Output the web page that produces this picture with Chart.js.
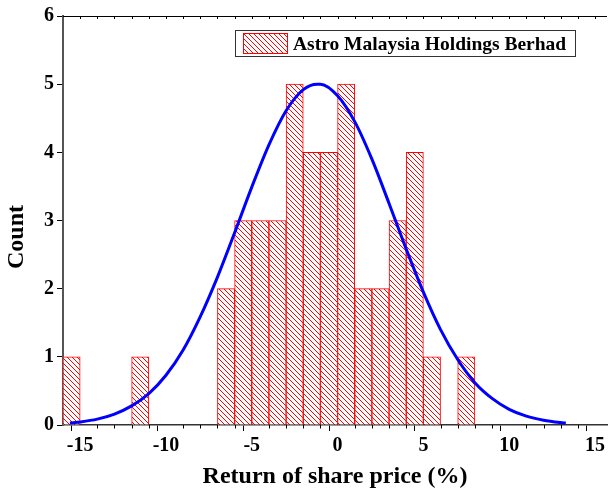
<!DOCTYPE html>
<html>
<head>
<meta charset="utf-8">
<script src="https://cdn.jsdelivr.net/npm/chart.js@4/dist/chart.umd.min.js"></script>
<style>
html,body{margin:0;padding:0;background:#fff;}
#wrap{width:608px;height:494px;}
</style>
</head>
<body>
<div id="wrap"><canvas id="c" width="608" height="494"></canvas></div>
<script>
// ---- data ----
const seriesLabel = "Astro Malaysia Holdings Berhad";
const binCenters = [-15.5, -11.5, -6.5, -5.5, -4.5, -3.5, -2.5, -1.5, -0.5, 0.5, 1.5, 2.5, 3.5, 4.5, 5.5, 7.5];
const binCounts  = [1, 1, 2, 3, 3, 3, 5, 4, 4, 5, 2, 2, 3, 4, 1, 1];
const curveX = [-15.6, -15, -14, -13, -12, -11, -10, -9, -8, -7, -6, -5, -4, -3, -2, -1.18, -1, 0, 1, 2, 3, 4, 5, 6, 7, 8, 9, 10, 11, 12, 13, 13.3];
const curveY = [0.03, 0.045, 0.086, 0.16, 0.28, 0.46, 0.73, 1.1, 1.59, 2.17, 2.82, 3.49, 4.11, 4.61, 4.92, 5.0, 5.0, 4.83, 4.45, 3.9, 3.25, 2.58, 1.95, 1.4, 0.96, 0.62, 0.39, 0.23, 0.13, 0.07, 0.035, 0.028];
const xTickLabels = [-15, -10, -5, 0, 5, 10, 15];
const yTickLabels = [0, 1, 2, 3, 4, 5, 6];
const xTitle = "Return of share price (%)";
const yTitle = "Count";

// ---- hatch pattern ----
function makeHatch() {
  const p = 5;
  const cv = document.createElement('canvas');
  cv.width = p; cv.height = p;
  const g = cv.getContext('2d');
  g.fillStyle = '#fff';
  g.fillRect(0, 0, p, p);
  g.strokeStyle = '#ff0000';
  g.lineWidth = 1;
  g.beginPath();
  for (let k = -1; k <= 1; k++) {
    g.moveTo(k * p, 0);
    g.lineTo(k * p + p, p);
  }
  g.stroke();
  return g.createPattern(cv, 'repeat');
}
const hatch = makeHatch();

const FONT = "'Liberation Serif','Times New Roman',serif";

const extras = {
  id: 'extras',
  afterDraw(chart) {
    const ctx = chart.ctx;
    const a = chart.chartArea;
    const xs = chart.scales.x;
    ctx.save();
    // top border with small ticks, and minor ticks on the bottom axis
    ctx.strokeStyle = '#000';
    ctx.lineWidth = 1;
    ctx.beginPath();
    ctx.moveTo(a.left, a.top + 0.5);
    ctx.lineTo(a.right, a.top + 0.5);
    for (let v = -15; v <= 15; v++) {
      const px = Math.round(xs.getPixelForValue(v)) + 0.5;
      ctx.moveTo(px, a.top);
      ctx.lineTo(px, a.top + 3);
      if (!xTickLabels.includes(v)) {
        ctx.moveTo(px, a.bottom);
        ctx.lineTo(px, a.bottom + 3.5);
      }
    }
    ctx.stroke();
    // y axis title (rotated)
    ctx.save();
    ctx.translate(17, 237);
    ctx.rotate(-Math.PI / 2);
    ctx.fillStyle = '#000';
    ctx.font = "bold 24px " + FONT;
    ctx.textAlign = 'center';
    ctx.textBaseline = 'middle';
    ctx.fillText(yTitle, 0, 0);
    ctx.restore();
    // legend
    const bx = 235.5, by = 30.5, bw = 340, bh = 26;
    ctx.fillStyle = '#fff';
    ctx.fillRect(bx, by, bw, bh);
    ctx.strokeStyle = '#333';
    ctx.lineWidth = 1;
    ctx.strokeRect(bx, by, bw, bh);
    ctx.fillStyle = hatch;
    ctx.fillRect(243, 33, 44, 21);
    ctx.strokeStyle = '#ff0000';
    ctx.strokeRect(243.5, 33.5, 44, 20);
    ctx.fillStyle = '#000';
    ctx.font = "bold 19.5px " + FONT;
    ctx.textBaseline = 'alphabetic';
    ctx.textAlign = 'left';
    ctx.fillText(seriesLabel, 293, 50);
    ctx.restore();
  }
};

new Chart(document.getElementById('c'), {
  type: 'bar',
  data: {
    datasets: [
      {
        type: 'line',
        label: 'Normal fit',
        data: curveX.map((x, i) => ({x: x, y: curveY[i]})),
        borderColor: '#0000ff',
        borderWidth: 3,
        pointRadius: 0,
        fill: false,
        cubicInterpolationMode: 'monotone',
        order: 0
      },
      {
        type: 'bar',
        label: seriesLabel,
        data: binCenters.map((x, i) => ({x: x, y: binCounts[i]})),
        backgroundColor: hatch,
        borderColor: '#ff0000',
        borderWidth: 1,
        barPercentage: 1,
        categoryPercentage: 1,
        order: 1
      }
    ]
  },
  options: {
    responsive: false,
    animation: false,
    devicePixelRatio: 1,
    layout: {padding: {top: 16, right: 0, left: 0, bottom: 0}},
    plugins: {legend: {display: false}, tooltip: {enabled: false}},
    scales: {
      x: {
        type: 'linear',
        min: -16,
        max: 15.7,
        offset: false,
        grid: {
          drawOnChartArea: false, drawTicks: true, tickLength: 6,
          tickColor: (c) => (c.tick && xTickLabels.includes(c.tick.value)) ? '#000' : 'rgba(0,0,0,0)'
        },
        border: {color: '#333', width: 1.5},
        ticks: {
          stepSize: 1,
          includeBounds: false,
          autoSkip: false,
          maxRotation: 0,
          padding: 3,
          color: '#000',
          font: {family: FONT, size: 20, weight: 'bold'},
          callback: (v) => xTickLabels.includes(v) ? String(v) : ''
        },
        title: {display: true, text: xTitle, color: '#000', padding: {top: 0, bottom: 3},
                font: {family: FONT, size: 24, weight: 'bold'}},
        afterFit: (s) => { s.height = 69; }
      },
      y: {
        min: 0,
        max: 6,
        grid: {drawOnChartArea: false, drawTicks: true, tickLength: 6, color: '#000'},
        border: {color: '#555', width: 2},
        ticks: {
          stepSize: 1,
          padding: 3,
          color: '#000',
          font: {family: FONT, size: 20, weight: 'bold'},
          callback: (v) => yTickLabels.includes(v) ? String(v) : ''
        },
        title: {display: false},
        afterFit: (s) => { s.width = 63; }
      }
    }
  },
  plugins: [extras]
});
</script>
</body>
</html>
